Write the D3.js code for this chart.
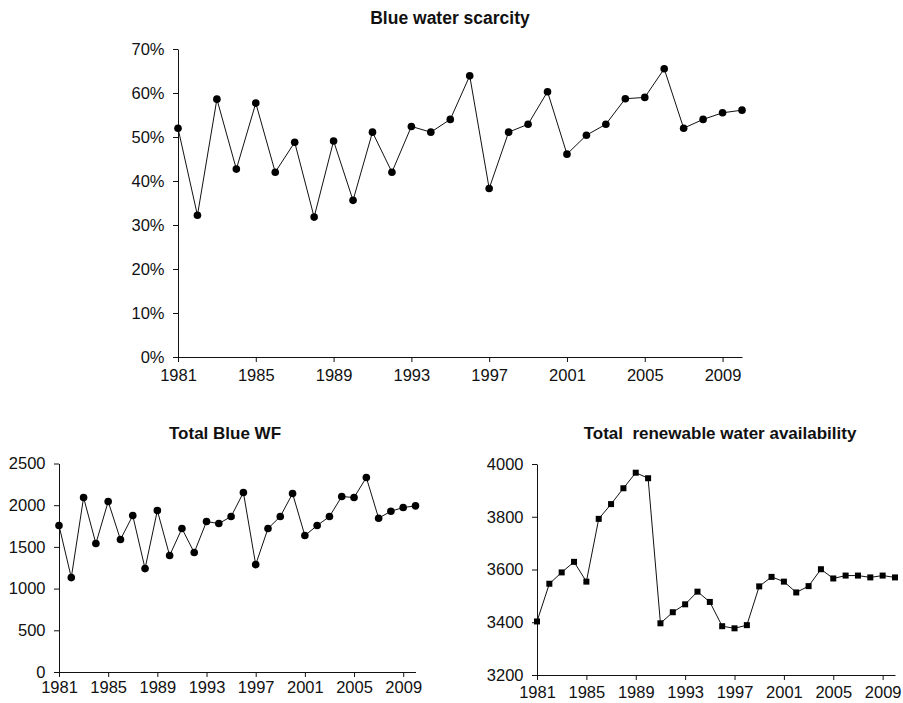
<!DOCTYPE html>
<html>
<head>
<meta charset="utf-8">
<script src="https://cdn.jsdelivr.net/npm/d3@7"></script>
<style>
  html, body { margin: 0; padding: 0; background: #fff; }
  svg { display: block; font-family: "Liberation Sans", Arial, sans-serif; }
</style>
</head>
<body>
<svg id="chart" width="903" height="703"></svg>
<script>
// ---- data ----
const years = [1981,1982,1983,1984,1985,1986,1987,1988,1989,1990,1991,1992,1993,1994,1995,
               1996,1997,1998,1999,2000,2001,2002,2003,2004,2005,2006,2007,2008,2009,2010];
const yearTicks = [1981,1985,1989,1993,1997,2001,2005,2009];

// Blue water scarcity (fraction)
const scarcity = [0.520,0.322,0.586,0.427,0.577,0.420,0.488,0.318,0.491,0.356,0.511,0.420,0.524,0.511,0.540,
                  0.639,0.383,0.511,0.529,0.603,0.461,0.504,0.529,0.587,0.590,0.655,0.520,0.540,0.555,0.561];
const scarcityTicks = [0,0.1,0.2,0.3,0.4,0.5,0.6,0.7];

// Total Blue WF
const blueWF = [1756,1132,2092,1540,2044,1588,1876,1240,1936,1396,1720,1432,1804,1780,1864,
                2152,1288,1720,1864,2140,1636,1756,1864,2104,2092,2332,1844,1928,1972,1992];
const blueWFTicks = [0,500,1000,1500,2000,2500];

// Total renewable water availability
const renewable = [3403,3546,3589,3629,3554,3792,3848,3908,3967,3946,3396,3438,3468,3516,3477,
                   3385,3377,3389,3536,3572,3554,3513,3537,3601,3566,3577,3577,3570,3577,3570];
const renewableTicks = [3200,3400,3600,3800,4000];

const titles = ["Blue water scarcity", "Total Blue WF", "Total  renewable water availability"];

// ---- drawing ----
const svg = d3.select("#chart");

function panel(opts) {
  const g = svg.append("g");
  const x = d3.scaleLinear().domain([1981, 2010]).range([opts.left, opts.right]);
  const y = d3.scaleLinear().domain(opts.domain).range([opts.bottom, opts.top]);

  const xAxis = g.append("g")
    .attr("transform", `translate(0,${opts.bottom})`)
    .call(d3.axisBottom(x).tickValues(yearTicks).tickFormat(d3.format("d")).tickSize(5).tickSizeOuter(0).tickPadding(opts.xPad));
  const yAxis = g.append("g")
    .attr("transform", `translate(${opts.left},0)`)
    .call(d3.axisLeft(y).tickValues(opts.ticks).tickFormat(opts.fmt).tickSize(5).tickSizeOuter(0).tickPadding(8.5));

  [xAxis, yAxis].forEach(a => {
    a.selectAll("text").attr("font-size", 16.5).attr("fill", "#111")
      .attr("font-family", "'Liberation Sans', Arial, sans-serif");
    a.selectAll("line,path").attr("stroke", "#111").attr("stroke-width", 1);
  });
  xAxis.selectAll("text").attr("dy", "0.71em");

  const line = d3.line().x((d, i) => x(years[i])).y(d => y(d));
  g.append("path").datum(opts.values)
    .attr("fill", "none").attr("stroke", "#111").attr("stroke-width", 1)
    .attr("d", line);

  if (opts.marker === "circle") {
    g.selectAll("circle.pt").data(opts.values).enter().append("circle")
      .attr("cx", (d, i) => x(years[i])).attr("cy", d => y(d))
      .attr("r", 3.8).attr("fill", "#000");
  } else {
    const s = 6;
    g.selectAll("rect.pt").data(opts.values).enter().append("rect")
      .attr("x", (d, i) => x(years[i]) - s / 2).attr("y", d => y(d) - s / 2)
      .attr("width", s).attr("height", s).attr("fill", "#000");
  }

  g.append("text")
    .attr("x", opts.titleX).attr("y", opts.titleY)
    .attr("text-anchor", "middle")
    .attr("font-size", opts.titleSize).attr("font-weight", "bold").attr("fill", "#111")
    .attr("xml:space", "preserve").style("white-space", "pre")
    .text(opts.title);
}

panel({
  values: scarcity, domain: [0, 0.7], ticks: scarcityTicks, fmt: d3.format(".0%"),
  left: 178, right: 742, top: 49, bottom: 357, xPad: 7,
  marker: "circle", title: titles[0], titleX: 450, titleY: 23.5, titleSize: 17.5
});

panel({
  values: blueWF, domain: [0, 2500], ticks: blueWFTicks, fmt: d3.format("d"),
  left: 59, right: 415.5, top: 463.5, bottom: 672, xPad: 4.5,
  marker: "circle", title: titles[1], titleX: 225, titleY: 438.5, titleSize: 17
});

panel({
  values: renewable, domain: [3200, 4000], ticks: renewableTicks, fmt: d3.format("d"),
  left: 537, right: 895, top: 464, bottom: 675, xPad: 6,
  marker: "square", title: titles[2], titleX: 720, titleY: 438.5, titleSize: 17
});
</script>
</body>
</html>
